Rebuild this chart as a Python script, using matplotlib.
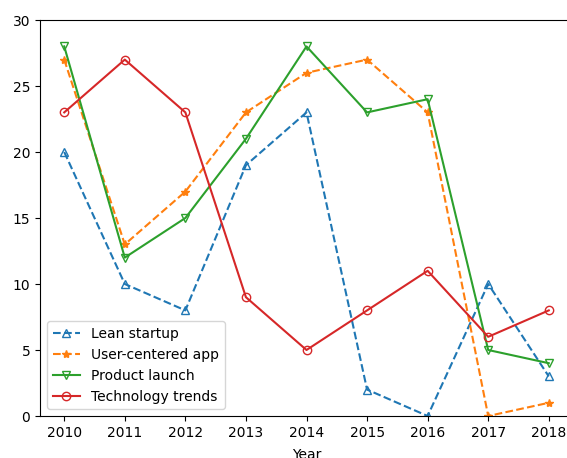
import matplotlib
matplotlib.use("Agg")
import matplotlib.pyplot as plt

years = [2010, 2011, 2012, 2013, 2014, 2015, 2016, 2017, 2018]
lean_startup = [20, 10, 8, 19, 23, 2, 0, 10, 3]
user_centered = [27, 13, 17, 23, 26, 27, 23, 0, 1]
product_launch = [28, 12, 15, 21, 28, 23, 24, 5, 4]
tech_trends = [23, 27, 23, 9, 5, 8, 11, 6, 8]

fig = plt.figure(figsize=(5.67, 4.58), dpi=100)
# the original is cropped on the right, so the axes run past the figure edge
ax = fig.add_axes([40 / 567, 42 / 458, 533 / 567, 396 / 458])

ax.plot(years, lean_startup, '--', marker='^', fillstyle='none', color='#1f77b4', label='Lean startup')
ax.plot(years, user_centered, '--', marker='*', color='#ff7f0e', label='User-centered app')
ax.plot(years, product_launch, '-', marker='v', fillstyle='none', color='#2ca02c', label='Product launch')
ax.plot(years, tech_trends, '-', marker='o', fillstyle='none', color='#d62728', label='Technology trends')

ax.set_ylim(0, 30)
ax.set_xticks(years)
ax.set_xlabel('Year', labelpad=6)
ax.spines['right'].set_visible(False)
ax.legend(loc='lower left')

fig.savefig('out.png', dpi=100)
